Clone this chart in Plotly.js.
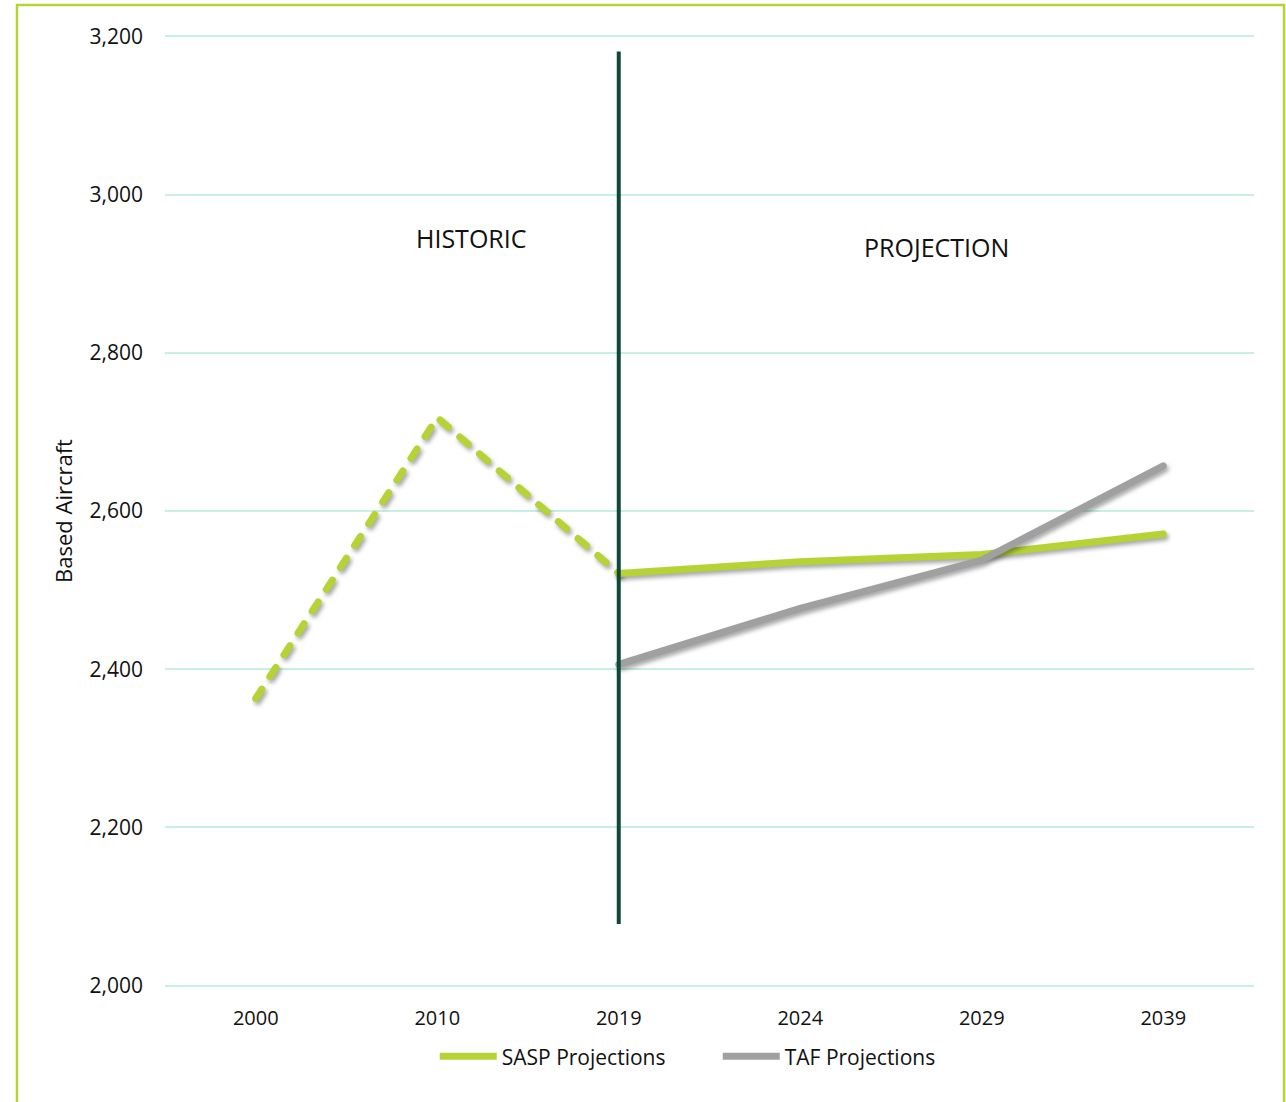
<!DOCTYPE html>
<html>
<head>
<meta charset="utf-8">
<script src="https://cdn.plot.ly/plotly-3.0.1.min.js"></script>
<style>
  html, body { margin: 0; padding: 0; background: #fff; }
  #chart { width: 1286px; height: 1102px; }
  .scatterlayer .js-line { filter: drop-shadow(2px 3px 2px rgba(0,0,0,0.35)); stroke-linecap: round; stroke-linejoin: round; }
</style>
</head>
<body>
<div id="chart"></div>
<script>
// Data
var years = ["2000", "2010", "2019", "2024", "2029", "2039"];
var historicYears = ["2000", "2010", "2019"];
var historicValues = [2363, 2718, 2521];
var projYears = ["2019", "2024", "2029", "2039"];
var saspValues = [2521, 2536, 2545, 2571];
var tafValues = [2406, 2477, 2538, 2657];
var yTicks = [2000, 2200, 2400, 2600, 2800, 3000, 3200];
var yTickLabels = ["2,000", "2,200", "2,400", "2,600", "2,800", "3,000", "3,200"];
var dividerYear = "2019";

var green = "#b5d334";
var gray = "#a0a0a0";
var font = "'Open Sans', sans-serif";

var traces = [
  {
    x: historicYears, y: historicValues, type: "scatter", mode: "lines",
    line: { color: green, width: 7, dash: "11px,15px" },
    showlegend: false, hoverinfo: "x+y"
  },
  {
    x: projYears, y: saspValues, type: "scatter", mode: "lines",
    name: "SASP Projections",
    line: { color: green, width: 7 }
  },
  {
    x: projYears, y: tafValues, type: "scatter", mode: "lines",
    name: "TAF Projections",
    line: { color: gray, width: 7 }
  }
];

var dividerIndex = years.indexOf(dividerYear);

var layout = {
  width: 1286, height: 1102,
  margin: { l: 165, r: 32, t: 34, b: 114 },
  paper_bgcolor: "#ffffff",
  plot_bgcolor: "#ffffff",
  font: { family: font, size: 21, color: "#111" },
  xaxis: {
    type: "category",
    categoryorder: "array",
    categoryarray: years,
    range: [-0.5, 5.5],
    showgrid: false,
    zeroline: false,
    showline: false,
    ticks: "",
    ticklabelstandoff: 16,
    tickfont: { family: font, size: 20, color: "#111" },
    fixedrange: true
  },
  yaxis: {
    range: [1997, 3203],
    tickvals: yTicks,
    ticktext: yTickLabels,
    showgrid: true,
    gridcolor: "#c6efe6",
    gridwidth: 2,
    zeroline: false,
    showline: false,
    ticks: "",
    ticklabelstandoff: 21,
    tickfont: { family: font, size: 21, color: "#111" },
    title: { text: "Based Aircraft", font: { family: font, size: 22, color: "#111" }, standoff: 10 },
    automargin: false,
    fixedrange: true
  },
  showlegend: true,
  legend: {
    orientation: "h",
    x: 0.2477, xanchor: "left",
    y: -0.072, yanchor: "middle",
    font: { family: font, size: 21, color: "#111" },
    itemwidth: 57,
    entrywidth: 211,
    bgcolor: "rgba(0,0,0,0)"
  },
  shapes: [
    {
      type: "line", xref: "x", yref: "y",
      x0: dividerIndex, x1: dividerIndex, y0: 2078, y1: 3181,
      line: { color: "#10473b", width: 4 },
      layer: "above"
    },
    {
      type: "rect", xref: "paper", yref: "paper",
      x0: -0.1359, x1: 1.0276, y0: -0.14, y1: 1.0305,
      line: { color: green, width: 2.5 },
      fillcolor: "rgba(0,0,0,0)",
      layer: "above"
    }
  ],
  annotations: [
    {
      text: "HISTORIC", xref: "x", yref: "y", x: 1.186, y: 2945,
      showarrow: false, font: { family: font, size: 25, color: "#111" },
      xanchor: "center", yanchor: "middle"
    },
    {
      text: "PROJECTION", xref: "x", yref: "y", x: 3.748, y: 2934,
      showarrow: false, font: { family: font, size: 25, color: "#111" },
      xanchor: "center", yanchor: "middle"
    }
  ]
};

Plotly.newPlot("chart", traces, layout, { displayModeBar: false, staticPlot: true });
</script>
</body>
</html>
